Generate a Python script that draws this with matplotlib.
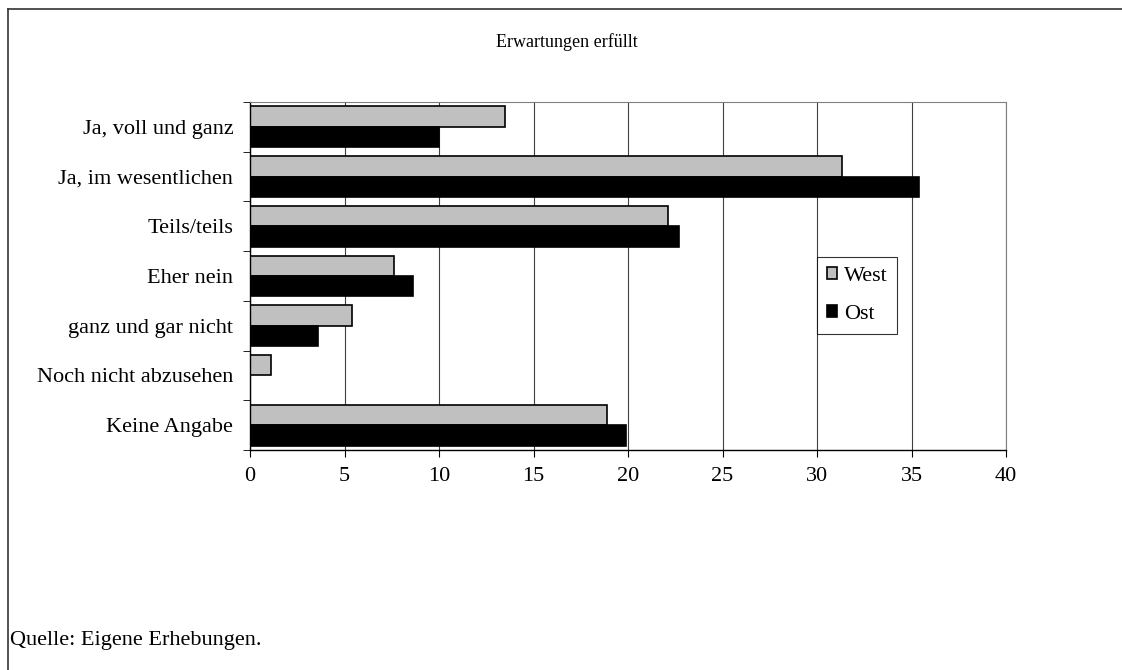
import matplotlib.pyplot as plt
from matplotlib.lines import Line2D
import numpy as np

plt.rcParams['font.family'] = ['Liberation Serif', 'DejaVu Serif']

kategorien = ['Ja, voll und ganz', 'Ja, im wesentlichen', 'Teils/teils', 'Eher nein',
              'ganz und gar nicht', 'Noch nicht abzusehen', 'Keine Angabe']
west = [13.5, 31.3, 22.1, 7.6, 5.4, 1.1, 18.9]
ost = [10.0, 35.4, 22.7, 8.6, 3.6, 0.0, 19.9]
xticks = [0, 5, 10, 15, 20, 25, 30, 35, 40]

W, H = 1122, 670
fig = plt.figure(figsize=(W / 100, H / 100), dpi=100)
ax = fig.add_axes([250 / W, 1 - 450 / H, (1006 - 250) / W, (450 - 102) / H])

y = np.arange(len(kategorien))
h = 0.41
ax.barh(y - h / 2, west, height=h, color='#c0c0c0', edgecolor='black', linewidth=1.2, label='West')
ax.barh(y + h / 2, ost, height=h, color='black', edgecolor='black', linewidth=1.2, label='Ost')

ax.set_ylim(len(kategorien) - 0.5, -0.5)
ax.set_xlim(0, 40)
ax.set_xticks(xticks)
ax.set_xticklabels([str(v) for v in xticks], fontsize=16)
ax.set_yticks(y)
ax.set_yticklabels(kategorien, fontsize=16)
ax.tick_params(axis='y', length=0, pad=12)
ax.set_yticks(np.arange(len(kategorien) + 1) - 0.5, minor=True)
ax.tick_params(axis='y', which='minor', length=5, direction='out', color='black')
ax.tick_params(axis='x', length=5, direction='out', pad=7)

ax.grid(axis='x', color='#404040', linewidth=0.8)
ax.set_axisbelow(True)
for s in ['top', 'right']:
    ax.spines[s].set_color('#808080')
    ax.spines[s].set_linewidth(0.8)
for s in ['left', 'bottom']:
    ax.spines[s].set_color('black')
    ax.spines[s].set_linewidth(1.0)

leg = ax.legend(loc='upper left', bbox_to_anchor=((817 - 250) / 756, (450 - 257) / 348),
                fontsize=16, frameon=True, fancybox=False, edgecolor='black',
                handlelength=0.45, handleheight=0.45, handletextpad=0.3,
                labelspacing=0.85, borderpad=0.45, borderaxespad=0)
leg.get_frame().set_linewidth(0.8)

fig.text(567 / W, 1 - 42 / H, 'Erwartungen erfüllt', ha='center', va='center', fontsize=13)
fig.text(10 / W, 1 - 641 / H, 'Quelle: Eigene Erhebungen.', ha='left', va='center', fontsize=16)

# Rahmen oben und links
fig.add_artist(Line2D([8 / W, 8 / W], [0, 1 - 9 / H], color='#333333', linewidth=1.2))
fig.add_artist(Line2D([8 / W, 1], [1 - 9 / H, 1 - 9 / H], color='#333333', linewidth=1.2))

fig.savefig('out.png', dpi=100)
